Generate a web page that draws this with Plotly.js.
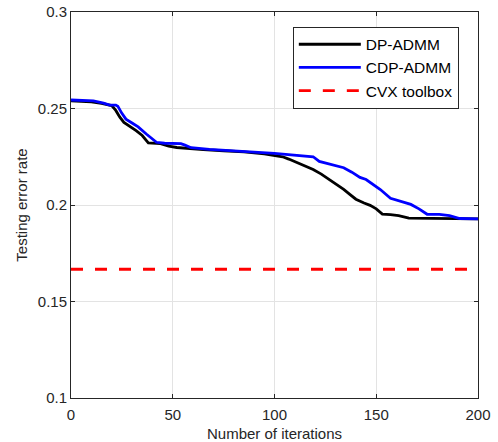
<!DOCTYPE html>
<html>
<head>
<meta charset="utf-8">
<script src="https://cdn.plot.ly/plotly-3.0.1.min.js"></script>
<style>html,body{margin:0;padding:0;background:#fff;}#chart{width:498px;height:442px;}</style>
</head>
<body>
<div id="chart"></div>
<script>
// DP-ADMM
const dpIter = [0, 5, 10, 15, 20, 22, 24, 26, 29, 32, 35, 38, 44, 48, 52, 58, 65, 75, 85, 95, 100, 104, 107, 110, 114, 119, 123, 127, 131, 134, 137, 140, 144, 147, 150, 153, 157, 161, 166, 175, 185, 200];
const dpErr  = [0.2540, 0.2538, 0.2534, 0.2527, 0.2515, 0.2490, 0.2455, 0.2428, 0.2408, 0.2385, 0.2360, 0.2322, 0.2318, 0.2305, 0.2298, 0.2292, 0.2287, 0.2281, 0.2275, 0.2265, 0.2258, 0.2250, 0.2238, 0.2225, 0.2205, 0.2184, 0.2160, 0.2132, 0.2105, 0.2081, 0.2055, 0.2030, 0.2010, 0.1998, 0.1980, 0.1953, 0.1950, 0.1945, 0.1932, 0.1930, 0.1930, 0.1928];
// CDP-ADMM
const cdpIter = [0, 5, 11, 16, 19, 22, 23, 25, 27, 30, 33, 37, 40, 42, 46, 50, 54, 56, 59, 68, 80, 90, 100, 108, 115, 119, 122, 126, 130, 134, 138, 142, 145, 148, 152, 157, 162, 167, 171, 175, 181, 186, 191, 200];
const cdpErr  = [0.2544, 0.2542, 0.2539, 0.2528, 0.2518, 0.2518, 0.2512, 0.2475, 0.2445, 0.2425, 0.2405, 0.2368, 0.2345, 0.2325, 0.2320, 0.2318, 0.2318, 0.2310, 0.2297, 0.2288, 0.2279, 0.2274, 0.2268, 0.2262, 0.2255, 0.2250, 0.2226, 0.2215, 0.2205, 0.2193, 0.2170, 0.2143, 0.2132, 0.2110, 0.2080, 0.2035, 0.2018, 0.2003, 0.1980, 0.1952, 0.1951, 0.1945, 0.1930, 0.1928];
// CVX toolbox
const cvxIter = [0, 200];
const cvxErr  = [0.1667, 0.1667];

const seriesNames = ['DP-ADMM', 'CDP-ADMM', 'CVX toolbox'];
const xTickVals = [0, 50, 100, 150, 200];
const xTickText = ['0', '50', '100', '150', '200'];
const yTickVals = [0.1, 0.15, 0.2, 0.25, 0.3];
const yTickText = ['0.1', '0.15', '0.2', '0.25', '0.3'];

const FONT = 'Liberation Sans, Arial, sans-serif';
const TXT = '#262626';

const traces = [
  {x: dpIter, y: dpErr, name: seriesNames[0], mode: 'lines', line: {color: '#000000', width: 2.8}},
  {x: cdpIter, y: cdpErr, name: seriesNames[1], mode: 'lines', line: {color: '#0000ff', width: 2.8}},
  {x: cvxIter, y: cvxErr, name: seriesNames[2], mode: 'lines', line: {color: '#ff0000', width: 2.8, dash: '12px,12px'}}
];

const axisCommon = {
  showline: true, mirror: 'ticks', linecolor: TXT, linewidth: 1,
  ticks: 'inside', ticklen: 4, tickcolor: TXT, tickwidth: 1,
  showgrid: true, gridcolor: '#e3e3e3', gridwidth: 1, zeroline: false,
  tickfont: {family: FONT, size: 15, color: TXT}
};

const layout = {
  width: 498, height: 442,
  margin: {l: 71, r: 20, t: 12, b: 44},
  paper_bgcolor: '#ffffff', plot_bgcolor: '#ffffff',
  showlegend: true,
  legend: {
    x: 0.545, y: 0.962, xanchor: 'left', yanchor: 'top',
    bordercolor: TXT, borderwidth: 1, bgcolor: '#ffffff',
    font: {family: FONT, size: 15.5, color: '#000000'},
    itemwidth: 62
  },
  xaxis: Object.assign({}, axisCommon, {
    range: [0, 200], tickvals: xTickVals, ticktext: xTickText,
    ticklabelstandoff: 3,
    title: {text: 'Number of iterations', font: {family: FONT, size: 15, color: TXT}, standoff: 7}
  }),
  yaxis: Object.assign({}, axisCommon, {
    range: [0.1, 0.3], tickvals: yTickVals, ticktext: yTickText,
    title: {text: 'Testing error rate', font: {family: FONT, size: 15, color: TXT}, standoff: 6}
  })
};

Plotly.newPlot('chart', traces, layout, {staticPlot: true, displayModeBar: false});
</script>
</body>
</html>
